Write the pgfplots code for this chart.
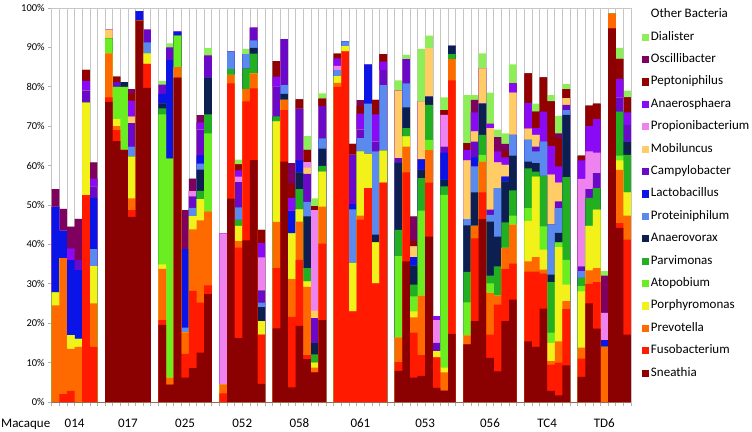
\documentclass[border=0pt]{standalone}
\usepackage{pgfplots}
\pgfplotsset{compat=1.18}
\usepackage{pgfplotstable}
\usepackage{fontspec}
\setmainfont{Carlito}

\definecolor{cSn}{HTML}{8B0000}
\definecolor{cFu}{HTML}{FF1A00}
\definecolor{cPr}{HTML}{FF6A00}
\definecolor{cPo}{HTML}{F2F21A}
\definecolor{cAt}{HTML}{6AEE22}
\definecolor{cPa}{HTML}{22B022}
\definecolor{cAv}{HTML}{0C1F50}
\definecolor{cPt}{HTML}{5A8AEE}
\definecolor{cLa}{HTML}{0A14E6}
\definecolor{cCa}{HTML}{6A0AC8}
\definecolor{cMo}{HTML}{FFCC66}
\definecolor{cPp}{HTML}{EE82EE}
\definecolor{cAn}{HTML}{8A0AF5}
\definecolor{cPe}{HTML}{930000}
\definecolor{cOs}{HTML}{800060}
\definecolor{cDi}{HTML}{8EEE5A}

% cumulative tops (%), bottom layer Sneathia upwards; gaps between macaques are empty slots
\pgfplotstableread{
x  Sn   Fu   Pr   Po   At   Pa   Av   Pt   La   Ca   Mo   Pp   An   Pe   Os   Di   Ot
0  0    0    24.5 27.8 27.8 27.8 27.8 27.8 49.5 49.5 49.5 49.5 49.5 49.5 54   54   100
1  0    2    36.5 36.5 36.5 36.5 36.5 36.5 43.5 43.5 43.5 43.5 43.5 43.5 49   49   100
2  0    2.8  13.5 17   17   17   17   17   36   36   36   36   39   39   44.5 44.5 100
3  0    0    14   16   16   16   16   16   33.5 36   36   36   36   36   46.5 46.5 100
4  0    52.5 52.5 76   76   76   76   76   76   79   79   79   81.5 84.3 84.3 84.3 100
5  0    14   25   34.5 34.5 34.5 34.5 38.8 51.8 54.6 54.6 54.6 56.7 56.7 60.8 60.8 100
6  0    0    0    0    0    0    0    0    0    0    0    0    0    0    0    0    100
7  76.2 77.3 88.5 88.5 92.3 92.3 92.3 92.3 92.3 92.3 94.5 94.5 94.5 94.5 94.5 94.5 100
8  66.2 69   70   71.8 80   80   80   80   80   81.2 81.2 81.2 81.2 82.6 82.6 82.6 100
9  64   64   64   64   80   80   81.2 81.2 81.2 81.2 81.2 81.2 81.2 81.2 81.2 81.2 100
10 47   48.7 51.7 62.3 62.3 62.3 62.3 64.8 64.8 70.8 72.4 72.4 76.5 78.2 79.4 79.4 100
11 96.8 96.8 96.8 96.8 96.8 96.8 96.8 96.8 99.2 99.2 99.2 99.2 99.2 99.2 99.2 99.2 100
12 79.7 85.8 85.8 88.5 88.5 88.5 88.5 91.3 91.3 94.5 94.5 94.5 94.5 94.5 94.5 94.5 100
13 0    0    0    0    0    0    0    0    0    0    0    0    0    0    0    0    100
14 19.6 20.8 33.8 34.9 73   74.5 75.8 75.8 78.2 80.5 80.5 80.5 80.5 80.5 80.5 81.5 100
15 4.4  4.4  6.2  6.2  61.8 61.8 61.8 61.8 86.8 90   90   90   90   90   90   91   100
16 82.3 82.3 85   85   93   93   93   93   94   94   94   94   94   94   94   94   100
17 6.2  12.2 17.7 17.7 17.7 17.7 17.7 18.9 38.8 38.8 38.8 38.8 38.8 38.8 48.7 48.7 100
18 8.6  28.2 43.8 47.2 47.2 47.2 47.2 49.3 49.3 52.2 52.2 53.5 53.5 53.5 56.7 56.7 100
19 12.5 25.2 46.1 51.5 51.5 53.6 59   60.5 62.6 69.1 69.1 69.1 71   71   72.8 72.8 100
20 27.4 29.6 48.4 48.4 68.2 73   82.3 82.3 82.3 88   88   88   88   88   88   89.8 100
21 0    0    0    0    0    0    0    0    0    0    0    0    0    0    0    0    100
22 0    2.2  4.5  4.5  4.5  4.5  4.5  4.5  4.5  4.5  4.5  42.8 42.8 42.8 42.8 42.8 100
23 51.6 80.9 83   83   83   84.5 84.5 88.9 88.9 88.9 88.9 88.9 88.9 88.9 88.9 88.9 100
24 16.2 39.2 40.8 44.7 44.7 46.2 46.2 49.4 49.4 55.8 55.8 57.2 58.8 60.3 60.3 61.5 100
25 41   76.3 79.4 79.4 79.4 84.6 84.6 88.3 88.3 88.3 88.3 88.3 88.3 88.3 88.3 89.6 100
26 61.4 79.6 83.4 83.4 83.4 88.4 89.9 91.8 91.8 95   95   95   95   95   95   95   100
27 4.6  17.1 17.1 20.5 20.5 20.5 24.1 25.2 25.2 28.3 28.3 36.7 40.3 43.7 43.7 43.7 100
28 0    0    0    0    0    0    0    0    0    0    0    0    0    0    0    0    100
29 18.7 34   45.7 71.2 71.2 72.5 72.5 72.5 72.5 80   80   80   82.6 86.5 86.5 86.5 100
30 61   74.1 76.7 76.7 76.7 76.7 78.2 80.4 80.4 92.1 92.1 92.1 92.1 92.1 92.1 92.1 100
31 3.7  21.6 31.2 42.8 42.8 42.8 42.8 42.8 48.5 48.5 48.5 48.5 51.8 55.4 60.6 60.6 100
32 19.3 36.1 45.8 48.9 48.9 54   58.3 58.3 61.3 74.4 74.4 74.4 74.4 76.8 76.8 76.8 100
33 10.9 11.9 29.2 30.6 30.6 34   47.1 50.8 50.8 57.9 59.5 60.9 60.9 64   64   67.5 100
34 7.5  7.5  8.7  10   10   12.1 15   15   15   21.3 23.2 48.7 48.7 49.7 49.7 51.7 100
35 20.8 40.2 49.6 58.5 58.5 59.9 64.3 66.9 66.9 75.1 75.1 75.1 75.1 77   77   78.3 100
36 0    0    0    0    0    0    0    0    0    0    0    0    0    0    0    0    100
37 0    80   81   82.7 82.7 82.7 82.7 84.2 84.2 84.2 84.2 85.3 87.2 88.4 88.4 88.4 100
38 0    89   89   90.3 90.3 90.3 90.3 91.5 91.5 91.5 91.5 91.5 91.5 91.5 91.5 91.5 100
39 0    23   23   35.3 35.3 35.3 35.3 48.9 50.2 62.7 62.7 62.7 62.7 65.5 65.5 65.5 100
40 0    46.3 47.3 63.6 63.6 63.6 63.6 67   67   69.1 69.1 69.1 73.2 75.2 76.6 76.6 100
41 0    54.3 54.3 63   63   63   63   75.7 85.6 85.6 85.6 85.6 85.6 85.6 85.6 85.6 100
42 0    30.1 30.1 40.5 40.5 40.5 42.5 63.6 63.6 66.1 66.1 66.1 73   76.7 76.7 76.7 100
43 0    55.7 55.7 63.8 63.8 63.8 63.8 80.4 80.4 84.2 84.2 84.2 86.4 88.3 88.3 88.3 100
44 0    0    0    0    0    0    0    0    0    0    0    0    0    0    0    0    100
45 7.9  10.1 16.4 16.4 37   43.7 60.8 60.8 60.8 61.9 79   79   79   79   79   81.6 100
46 35.7 58.3 64.8 67.4 67.4 69.5 74.8 80.9 80.9 87   87   87   87   87   87   88.1 100
47 6.2  17.6 21.5 23   26.8 29.8 34.6 34.6 36.8 36.8 39.5 39.5 39.5 40.8 47.1 47.1 100
48 6.6  11.9 27   27   48.6 56.8 58.9 58.9 61.6 61.6 76.3 76.3 76.3 76.3 76.3 89.6 100
49 42   55.7 64   64   66.5 75.4 77.5 77.5 77.5 77.5 89.8 89.8 89.8 89.8 89.8 93   100
50 3.6  11.3 11.3 12.9 12.9 12.9 12.9 12.9 12.9 15   15   20.8 21.8 21.8 21.8 21.8 100
51 2.9  2.9  7.5  8.7  52.6 54.7 56.4 56.4 63.3 64.8 64.8 72.9 72.9 74.1 74.1 77.3 100
52 17.3 81.6 87   87   87   88.3 90.4 90.4 90.4 90.4 90.4 90.4 90.4 90.4 90.4 90.4 100
53 0    0    0    0    0    0    0    0    0    0    0    0    0    0    0    0    100
54 14.6 14.6 16.9 16.9 25.3 33   44.8 46.4 46.4 46.4 61.3 61.3 64   65.7 65.7 77.9 100
55 20.5 41.5 44.7 44.7 44.7 44.7 53.2 59.8 62.1 66.1 68.7 68.7 73.5 73.5 76.7 77.9 100
56 46.4 53.2 61   61   62.7 67.8 75.7 75.7 75.7 75.7 84.7 84.7 84.7 84.7 84.7 88.5 100
57 11.2 17.1 27.7 27.7 30.1 32.1 45.8 47.5 47.5 48.8 69.5 69.5 70.6 70.6 70.6 78.5 100
58 7.8  24.7 27   27   27   34.4 42   54.3 54.3 54.3 60.8 60.8 63.6 63.6 67.2 69.1 100
59 20.5 33.8 39.1 39.1 39.1 45.6 56   56   57.2 57.2 60.2 60.2 62.1 63.6 65.5 68.2 100
60 26   35.1 45   45   47.3 53.7 62.5 67.8 67.8 67.8 78.5 78.5 80.9 80.9 80.9 85.7 100
61 0    0    0    0    0    0    0    0    0    0    0    0    0    0    0    0    100
62 15.4 33.1 35.7 46   49.2 59.3 61   66.5 66.5 66.5 69.4 69.4 75.9 83.4 83.4 83.4 100
63 14   33.1 36.8 57.2 57.2 58.5 60.6 63.6 63.6 64.8 67.8 67.8 69.5 73.7 73.7 75.7 100
64 23.7 32.6 33.6 38.7 44.6 57.4 57.4 66.1 66.1 66.1 66.1 66.1 73.7 82.4 82.4 82.4 100
65 2.8  9.5  10.4 15   17.6 30.4 32.3 45   45   45   57.7 57.7 65   76.3 76.3 77.9 100
66 1.7  10   15.4 39.3 40.5 40.5 42.9 49.2 49.2 50.9 55.7 55.7 59.8 67   68.2 72.6 100
67 9.3  23.6 25.6 29.8 36.1 57.1 72.9 74.1 74.1 75.4 77.1 77.1 77.1 79.4 79.4 80.7 100
68 0    0    0    0    0    0    0    0    0    0    0    0    0    0    0    0    100
69 6.4  11   13.8 28.1 29.4 31.5 31.5 33.2 33.2 34.4 34.4 56.6 61.3 62.5 62.5 62.5 100
70 25   30   33.4 44.7 44.7 51.8 51.8 51.8 51.8 54   54   63.6 70.1 75.2 75.2 75.2 100
71 18.6 30.4 34   48.8 48.8 54.3 54.3 54.3 54.3 58.1 58.1 63.3 71.8 75.7 75.7 75.7 100
72 0    0    14   14   14   14   14   14   15.7 15.7 15.7 22.6 22.6 22.6 32.1 33.2 100
73 94.8 94.8 98.6 98.6 98.6 98.6 98.6 98.6 98.6 98.6 98.6 98.6 98.6 98.6 98.6 98.6 100
74 44.2 45.4 58.9 61.3 62.5 73.7 73.7 73.7 73.7 77.3 77.3 77.3 82   87.1 87.1 89.9 100
75 17.1 41.2 47.3 53.2 53.2 62.7 66.1 66.1 66.1 70.3 70.3 70.3 73.5 77.3 77.3 79   100
}\bact

\begin{document}
\begin{tikzpicture}
\useasboundingbox (-51.7pt,-29pt) rectangle (700.3pt,402pt);
\begin{axis}[
  scale only axis, width=579.3pt, height=394pt,
  xmin=-0.5, xmax=75.5, ymin=0, ymax=100,
  every axis plot/.append style={ybar, bar width=1, bar shift=0pt, draw=none},
  axis x line*=bottom, axis y line*=left,
  axis line style={draw=gray!60, line width=0.6pt},
  tick style={draw=gray!60, line width=0.6pt},
  tick align=outside, major tick length=3.5pt,
  ytick={0,10,...,100},
  yticklabels={0\%,10\%,20\%,30\%,40\%,50\%,60\%,70\%,80\%,90\%,100\%},
  yticklabel style={font=\fontsize{10.5}{12}\selectfont},
  xtick={-0.5,0.5,...,75.5}, xticklabels={},
  extra x ticks={2.5,9.5,17,24.5,32,40,48.5,57,64.5,72},
  extra x tick labels={014,017,025,052,058,061,053,056,TC4,TD6},
  extra x tick style={major tick length=0pt},
  xticklabel style={font=\fontsize{13}{15}\selectfont, anchor=base, yshift=-25pt},
  clip=false,
  legend cell align=left,
  legend image code/.code={\fill[#1,draw=none] (0pt,-3.6pt) rectangle (7.3pt,3.6pt);},
  legend style={draw=none, fill=none, at={(1,1)}, anchor=north west,
    xshift=11pt, yshift=1pt, inner sep=0pt, row sep=7.4pt,
    font=\fontsize{13}{15}\selectfont,
    nodes={inner sep=1.5pt, text height=9pt, text depth=3pt}},
]
\addplot[fill=white, draw=gray!45, line width=0.6pt] table[x=x,y=Ot]{\bact};
\addlegendentry{Other Bacteria}
\addplot[fill=cDi] table[x=x,y=Di]{\bact}; \addlegendentry{Dialister}
\addplot[fill=cOs] table[x=x,y=Os]{\bact}; \addlegendentry{Oscillibacter}
\addplot[fill=cPe] table[x=x,y=Pe]{\bact}; \addlegendentry{Peptoniphilus}
\addplot[fill=cAn] table[x=x,y=An]{\bact}; \addlegendentry{Anaerosphaera}
\addplot[fill=cPp] table[x=x,y=Pp]{\bact}; \addlegendentry{Propionibacterium}
\addplot[fill=cMo] table[x=x,y=Mo]{\bact}; \addlegendentry{Mobiluncus}
\addplot[fill=cCa] table[x=x,y=Ca]{\bact}; \addlegendentry{Campylobacter}
\addplot[fill=cLa] table[x=x,y=La]{\bact}; \addlegendentry{Lactobacillus}
\addplot[fill=cPt] table[x=x,y=Pt]{\bact}; \addlegendentry{Proteiniphilum}
\addplot[fill=cAv] table[x=x,y=Av]{\bact}; \addlegendentry{Anaerovorax}
\addplot[fill=cPa] table[x=x,y=Pa]{\bact}; \addlegendentry{Parvimonas}
\addplot[fill=cAt] table[x=x,y=At]{\bact}; \addlegendentry{Atopobium}
\addplot[fill=cPo] table[x=x,y=Po]{\bact}; \addlegendentry{Porphyromonas}
\addplot[fill=cPr] table[x=x,y=Pr]{\bact}; \addlegendentry{Prevotella}
\addplot[fill=cFu] table[x=x,y=Fu]{\bact}; \addlegendentry{Fusobacterium}
\addplot[fill=cSn] table[x=x,y=Sn]{\bact}; \addlegendentry{Sneathia}
\end{axis}
\node[font=\fontsize{13}{15}\selectfont, anchor=base] at (-26pt,-25pt) {Macaque};
\end{tikzpicture}
\end{document}
